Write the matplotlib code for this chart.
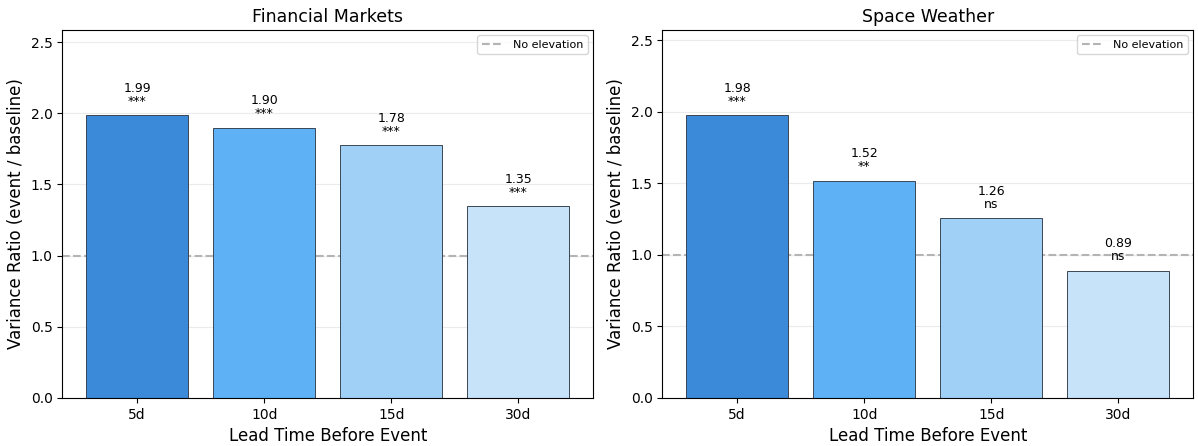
import matplotlib
matplotlib.use("Agg")
import matplotlib.pyplot as plt

leads = ["5d", "10d", "15d", "30d"]
fin_ratio = [1.99, 1.90, 1.78, 1.35]
fin_sig = ["***", "***", "***", "***"]
sw_ratio = [1.98, 1.52, 1.26, 0.89]
sw_sig = ["***", "**", "ns", "ns"]
colors = ["#3B8AD9", "#5EB1F5", "#A1D0F7", "#C6E3FA"]

fig, axes = plt.subplots(1, 2, figsize=(11.98, 4.46), dpi=100)
fig.subplots_adjust(left=0.052, right=0.996, top=0.933, bottom=0.108, wspace=0.13)

for ax, title, vals, sig in [
    (axes[0], "Financial Markets", fin_ratio, fin_sig),
    (axes[1], "Space Weather", sw_ratio, sw_sig),
]:
    bars = ax.bar(leads, vals, width=0.8, color=colors, edgecolor="#3a4654", linewidth=0.7, zorder=2)
    ax.axhline(1.0, color="#b4b4b4", linestyle="--", linewidth=1.5, label="No elevation", zorder=1)
    for b, v, s in zip(bars, vals, sig):
        ax.text(b.get_x() + b.get_width() / 2, v + 0.05, f"{v:.2f}\n{s}",
                ha="center", va="bottom", fontsize=9, linespacing=1.0)
    ax.set_ylim(0, max(vals) * 1.3)
    ax.set_title(title, fontsize=12.5)
    ax.set_xlabel("Lead Time Before Event", fontsize=12)
    ax.set_ylabel("Variance Ratio (event / baseline)", fontsize=12)
    ax.tick_params(labelsize=10)
    ax.grid(axis="y", alpha=0.25, zorder=0)
    ax.set_axisbelow(True)
    ax.legend(loc="upper right", fontsize=8)

plt.savefig("out.png", dpi=100)
